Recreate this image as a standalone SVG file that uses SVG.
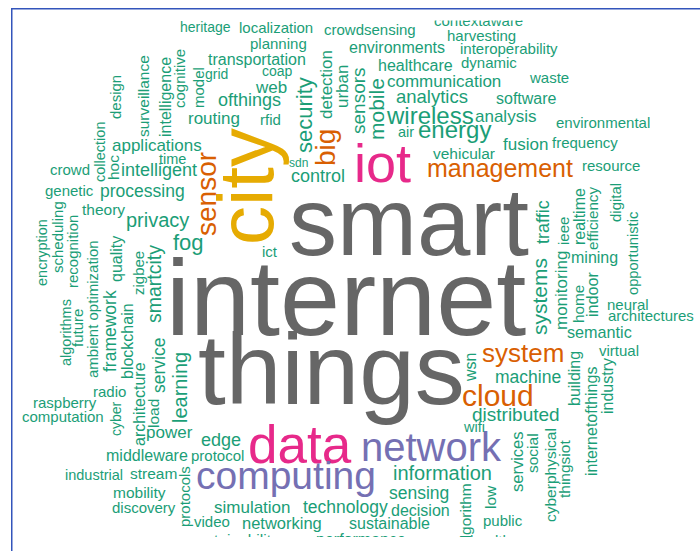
<svg xmlns="http://www.w3.org/2000/svg" width="700" height="551" viewBox="0 0 700 551">
<defs>
<clipPath id="cloudclip"><rect x="12" y="20.5" width="688" height="516.5"/></clipPath>
<style>
text{font-family:"Liberation Sans",Arial,sans-serif}
.g{fill:#1b9e77}
.o{fill:#d95f02}
.p{fill:#7570b3}
.k{fill:#e7298a}
.y{fill:#e6ab02}
.s{fill:#666666}
</style>
</defs>
<rect width="700" height="551" fill="#ffffff"/>
<g id="frame" fill="none" stroke="#3355bb" stroke-width="1.5">
<path d="M700 8.75 H11.75 V551"/>
</g>
<g id="cloud" clip-path="url(#cloudclip)">
<!-- big words -->
<text class="s" x="289" y="255" font-size="96">smart</text>
<text class="s" x="166" y="335" font-size="108">internet</text>
<text class="s" x="198" y="404" font-size="100">things</text>
<text class="y" font-size="78" transform="translate(273,245) rotate(-90)">city</text>
<text class="k" x="354" y="182" font-size="54">iot</text>
<text class="k" x="248" y="463" font-size="53">data</text>
<text class="p" x="361" y="461" font-size="40">network</text>
<text class="p" x="196" y="489" font-size="39">computing</text>
<text class="o" x="427" y="177" font-size="25">management</text>
<text class="o" font-size="28" transform="translate(335,166) rotate(-90)">big</text>
<text class="o" font-size="28" transform="translate(216,236) rotate(-90)">sensor</text>
<text class="o" x="482" y="362" font-size="26">system</text>
<text class="o" x="462" y="406" font-size="30">cloud</text>
<!-- top -->
<text class="g" x="180" y="32" font-size="14">heritage</text>
<text class="g" x="239" y="33" font-size="15">localization</text>
<text class="g" x="324" y="35" font-size="15">crowdsensing</text>
<text class="g" x="434" y="26" font-size="15">contextaware</text>
<text class="g" x="447" y="41" font-size="15">harvesting</text>
<text class="g" x="460" y="54" font-size="15">interoperability</text>
<text class="g" x="461" y="68" font-size="15">dynamic</text>
<text class="g" x="530" y="83" font-size="15">waste</text>
<text class="g" x="387" y="87" font-size="17">communication</text>
<text class="g" x="378" y="71" font-size="16">healthcare</text>
<text class="g" x="349" y="53" font-size="16">environments</text>
<text class="g" x="250" y="49" font-size="15">planning</text>
<text class="g" x="208" y="65" font-size="16">transportation</text>
<text class="g" x="262" y="76" font-size="14">coap</text>
<text class="g" x="205" y="79" font-size="14">grid</text>
<text class="g" x="256" y="93" font-size="17">web</text>
<text class="g" x="218" y="106" font-size="18">ofthings</text>
<text class="g" x="188" y="124" font-size="17">routing</text>
<text class="g" x="260" y="125" font-size="15">rfid</text>
<text class="g" font-size="22" transform="translate(312,153) rotate(-90)">security</text>
<text class="g" font-size="17" transform="translate(332,119) rotate(-90)">detection</text>
<text class="g" font-size="17" transform="translate(348,108) rotate(-90)">urban</text>
<text class="g" font-size="19" transform="translate(365,134) rotate(-90)">sensors</text>
<text class="g" font-size="21" transform="translate(384,140) rotate(-90)">mobile</text>
<text class="g" x="387" y="124" font-size="24">wireless</text>
<text class="g" x="396" y="103" font-size="18.5">analytics</text>
<text class="g" x="475" y="122" font-size="17">analysis</text>
<text class="g" x="496" y="104" font-size="16">software</text>
<text class="g" x="556" y="128" font-size="15">environmental</text>
<text class="g" x="418" y="138" font-size="24">energy</text>
<text class="g" x="398" y="137" font-size="14.5">air</text>
<text class="g" x="503" y="150" font-size="17">fusion</text>
<text class="g" x="552" y="148" font-size="15">frequency</text>
<text class="g" x="433" y="159" font-size="15.5">vehicular</text>
<text class="g" x="582" y="171" font-size="15">resource</text>
<text class="g" x="289" y="167" font-size="12">sdn</text>
<text class="g" x="291" y="182" font-size="18">control</text>
<!-- upper left -->
<text class="g" font-size="15" transform="translate(121,119) rotate(-90)">design</text>
<text class="g" font-size="15.5" transform="translate(149,137) rotate(-90)">surveillance</text>
<text class="g" font-size="16" transform="translate(171,137) rotate(-90)">intelligence</text>
<text class="g" font-size="15" transform="translate(185,108) rotate(-90)">cognitive</text>
<text class="g" font-size="15" transform="translate(204,108) rotate(-90)">model</text>
<text class="g" font-size="14.5" transform="translate(104.5,182) rotate(-90)">collection</text>
<text class="g" font-size="15.5" transform="translate(119,180) rotate(-90)">hoc</text>
<text class="g" x="112" y="151" font-size="17">applications</text>
<text class="g" x="159" y="164" font-size="14.5">time</text>
<text class="g" x="121" y="176" font-size="18">intelligent</text>
<text class="g" x="50" y="175" font-size="15">crowd</text>
<!-- left middle -->
<text class="g" x="45" y="196" font-size="15">genetic</text>
<text class="g" x="100" y="197" font-size="17.5">processing</text>
<text class="g" x="82" y="215" font-size="15.5">theory</text>
<text class="g" x="126" y="227" font-size="20">privacy</text>
<text class="g" x="173" y="250" font-size="22">fog</text>
<text class="g" x="262" y="257" font-size="15">ict</text>
<text class="g" font-size="14.5" transform="translate(46.5,286) rotate(-90)">encryption</text>
<text class="g" font-size="15" transform="translate(62.7,273) rotate(-90)">scheduling</text>
<text class="g" font-size="15" transform="translate(77.5,288) rotate(-90)">recognition</text>
<text class="g" font-size="15" transform="translate(98,378) rotate(-90)">ambient optimization</text>
<text class="g" font-size="16" transform="translate(122,282) rotate(-90)">quality</text>
<text class="g" font-size="15" transform="translate(144,295) rotate(-90)">zigbee</text>
<text class="g" font-size="19.5" transform="translate(161,323) rotate(-90)">smartcity</text>
<text class="g" font-size="14.5" transform="translate(71,366) rotate(-90)">algorithms</text>
<text class="g" font-size="15" transform="translate(83,347) rotate(-90)">future</text>
<text class="g" font-size="17.5" transform="translate(115.5,372) rotate(-90)">framework</text>
<text class="g" font-size="16" transform="translate(132.5,379) rotate(-90)">blockchain</text>
<text class="g" font-size="17.5" transform="translate(165,393) rotate(-90)">service</text>
<text class="g" font-size="16" transform="translate(144.5,446) rotate(-90)">architecture</text>
<text class="g" font-size="20" transform="translate(187,423) rotate(-90)">learning</text>
<!-- lower left -->
<text class="g" x="93" y="397" font-size="15">radio</text>
<text class="g" x="33" y="408" font-size="15">raspberry</text>
<text class="g" x="22" y="422" font-size="15">computation</text>
<text class="g" font-size="14" transform="translate(121,436) rotate(-90)">cyber</text>
<text class="g" font-size="15.5" transform="translate(159,428) rotate(-90)">load</text>
<text class="g" x="146" y="438" font-size="17">power</text>
<text class="g" x="201" y="446" font-size="18">edge</text>
<text class="g" x="106" y="461" font-size="16">middleware</text>
<text class="g" x="191" y="461" font-size="15">protocol</text>
<text class="g" x="65" y="480" font-size="14.5">industrial</text>
<text class="g" x="130" y="479" font-size="15.5">stream</text>
<text class="g" font-size="15" transform="translate(190,527) rotate(-90)">protocols</text>
<text class="g" x="113" y="498" font-size="15.5">mobility</text>
<text class="g" x="112" y="513" font-size="15">discovery</text>
<text class="g" x="194" y="527" font-size="15">video</text>
<text class="g" x="190" y="545" font-size="15.5">sustainability</text>
<text class="g" x="316" y="545" font-size="16">performance</text>
<text class="g" x="470" y="546" font-size="15">health</text>
<!-- lower middle -->
<text class="g" x="393" y="480" font-size="20">information</text>
<text class="g" x="389" y="499" font-size="17.5">sensing</text>
<text class="g" x="214" y="513" font-size="17">simulation</text>
<text class="g" x="303" y="513" font-size="17.5">technology</text>
<text class="g" x="391" y="516" font-size="16">decision</text>
<text class="g" x="242" y="529" font-size="16.5">networking</text>
<text class="g" x="349" y="529" font-size="16">sustainable</text>
<text class="g" font-size="15.5" transform="translate(471,547) rotate(-90)">algorithm</text>
<text class="g" font-size="16" transform="translate(476,381) rotate(-90)">wsn</text>
<!-- right -->
<text class="g" x="495" y="383" font-size="17.5">machine</text>
<text class="g" x="472" y="421" font-size="19">distributed</text>
<text class="g" x="464" y="432" font-size="14.5">wifi</text>
<text class="g" font-size="16.5" transform="translate(523,492) rotate(-90)">services</text>
<text class="g" font-size="15.5" transform="translate(538,473) rotate(-90)">social</text>
<text class="g" font-size="15.5" transform="translate(556,522) rotate(-90)">cyberphysical</text>
<text class="g" font-size="15.5" transform="translate(570,498) rotate(-90)">thingsiot</text>
<text class="g" font-size="16" transform="translate(596.5,476) rotate(-90)">internetofthings</text>
<text class="g" font-size="16" transform="translate(613,414) rotate(-90)">industry</text>
<text class="g" font-size="16" transform="translate(580,406) rotate(-90)">building</text>
<text class="g" font-size="15.5" transform="translate(496,509) rotate(-90)">low</text>
<text class="g" x="483" y="526" font-size="15">public</text>
<text class="g" font-size="18" transform="translate(549,244) rotate(-90)">traffic</text>
<text class="g" font-size="21" transform="translate(547,335) rotate(-90)">systems</text>
<text class="g" font-size="15" transform="translate(569,245) rotate(-90)">ieee</text>
<text class="g" font-size="17" transform="translate(567,330) rotate(-90)">monitoring</text>
<text class="g" font-size="16" transform="translate(584.5,245) rotate(-90)">realtime</text>
<text class="g" x="571" y="263" font-size="16">mining</text>
<text class="g" font-size="15.2" transform="translate(598,250) rotate(-90)">efficiency</text>
<text class="g" font-size="15" transform="translate(621,222) rotate(-90)">digital</text>
<text class="g" font-size="14.7" transform="translate(637.5,295) rotate(-90)">opportunistic</text>
<text class="g" font-size="15.3" transform="translate(584,323) rotate(-90)">home</text>
<text class="g" font-size="16.2" transform="translate(597.5,317) rotate(-90)">indoor</text>
<text class="g" x="607" y="310" font-size="15">neural</text>
<text class="g" x="608" y="321" font-size="15">architectures</text>
<text class="g" x="567" y="338" font-size="16.2">semantic</text>
<text class="g" x="599" y="356" font-size="15">virtual</text>
</g>
</svg>
